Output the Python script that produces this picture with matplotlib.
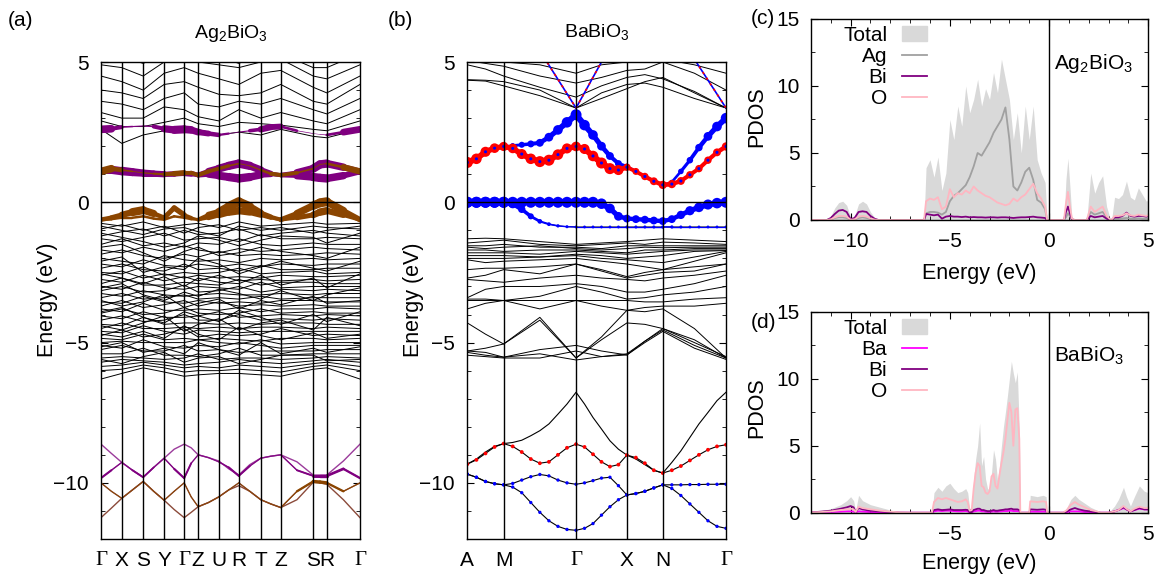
import numpy as np
import matplotlib
matplotlib.use('Agg')
import matplotlib.pyplot as plt
from matplotlib.collections import LineCollection
from matplotlib.patches import Patch
from matplotlib.lines import Line2D

plt.rcParams['font.family'] = ['Liberation Sans', 'DejaVu Sans']
plt.rcParams['font.size'] = 15
plt.rcParams['mathtext.fontset'] = 'custom'
plt.rcParams['mathtext.rm'] = 'Liberation Sans'
plt.rcParams['axes.linewidth'] = 1.0

PURPLE = '#800080'
BROWN = '#8b4500'
BLUE = '#0000ff'
RED = '#ff0000'

# ---------------- (a) Ag2BiO3 band structure ----------------
kpath_a = [0, 20.8, 42.2, 63.2, 83.2, 97.2, 117.8, 137.8, 159.8, 179.8, 212.2, 225.8, 259]
klabels_a = ['Γ', 'X', 'S', 'Y', 'Γ', 'Z', 'U', 'R', 'T', 'Z', 'S', 'R', 'Γ']

# conduction bands, values at the 13 k-points
cond_a = [
    [2.6, 2.1, 2.4, 2.55, 2.6, 2.6, 2.4, 2.5, 2.4, 2.6, 2.35, 2.3, 2.6],
    [2.9, 2.7, 2.7, 2.85, 3.0, 2.8, 2.7, 2.85, 2.8, 2.75, 2.6, 2.55, 2.9],
    [3.2, 3.0, 3.0, 3.4, 3.3, 3.05, 2.9, 3.3, 3.0, 3.2, 2.9, 2.8, 3.3],
    [3.6, 3.5, 3.3, 3.7, 3.9, 3.5, 3.4, 3.6, 3.5, 3.7, 3.3, 3.15, 3.7],
    [4.0, 3.9, 3.7, 4.2, 4.3, 4.1, 3.85, 3.8, 3.9, 4.2, 3.6, 3.5, 4.2],
    [4.5, 4.3, 4.0, 4.6, 4.8, 4.6, 4.4, 4.2, 4.6, 4.7, 4.1, 3.9, 4.5],
    [4.9, 4.8, 4.5, 5.0, 5.1, 5.0, 4.9, 4.8, 5.0, 5.1, 4.5, 4.4, 4.9],
    [5.2, 5.2, 4.95, 5.3, 5.3, 5.3, 5.2, 4.95, 5.3, 5.3, 4.8, 4.8, 5.3],
]

# valence bands, values at the 13 k-points
val_a = [
    [-0.75, -0.85, -0.7, -0.9, -0.8, -0.75, -0.9, -0.7, -0.85, -0.8, -0.72, -0.78, -0.75],
    [-0.95, -0.8, -1.0, -0.85, -1.1, -0.9, -0.8, -1.0, -0.9, -1.0, -0.85, -0.9, -0.95],
    [-1.2, -1.05, -0.95, -1.2, -1.0, -1.15, -1.1, -0.95, -1.2, -1.1, -1.0, -1.1, -1.2],
    [-1.3, -1.4, -1.25, -1.1, -1.35, -1.3, -1.25, -1.4, -1.15, -1.3, -1.3, -1.25, -1.3],
    [-1.5, -1.3, -1.55, -1.45, -1.6, -1.45, -1.5, -1.3, -1.5, -1.55, -1.45, -1.5, -1.5],
    [-1.7, -1.8, -1.6, -1.75, -1.55, -1.7, -1.8, -1.65, -1.75, -1.7, -1.6, -1.65, -1.7],
    [-1.85, -1.7, -1.9, -2.0, -1.85, -1.95, -1.75, -1.9, -1.85, -1.9, -1.85, -1.8, -1.85],
    [-2.0, -2.1, -2.2, -1.9, -2.05, -2.1, -2.05, -2.15, -2.0, -2.05, -2.0, -2.05, -2.0],
    [-2.2, -2.3, -2.05, -2.25, -2.3, -2.2, -2.3, -2.2, -2.3, -2.2, -2.25, -2.2, -2.2],
    [-2.35, -2.2, -2.4, -2.45, -2.2, -2.4, -2.35, -2.45, -2.25, -2.4, -2.4, -2.35, -2.35],
    [-2.5, -2.55, -2.3, -2.6, -2.5, -2.55, -2.5, -2.35, -2.55, -2.5, -2.45, -2.55, -2.5],
    [-2.6, -2.45, -2.7, -2.55, -2.7, -2.6, -2.7, -2.65, -2.7, -2.6, -2.65, -2.65, -2.6],
    [-2.75, -2.85, -2.6, -2.8, -2.65, -2.8, -2.6, -2.8, -2.75, -2.8, -2.75, -2.8, -2.75],
    [-2.9, -2.7, -2.95, -2.95, -2.85, -2.9, -2.95, -2.75, -2.95, -2.85, -2.85, -2.9, -2.9],
    [-3.0, -3.1, -2.85, -3.05, -3.1, -3.0, -3.05, -3.1, -2.85, -3.05, -3.0, -3.0, -3.0],
    [-3.15, -3.0, -3.2, -3.15, -2.95, -3.2, -3.15, -3.0, -3.2, -3.1, -3.15, -3.1, -3.15],
    [-3.25, -3.35, -3.15, -3.3, -3.35, -3.3, -3.25, -3.3, -3.3, -3.25, -3.3, -3.25, -3.25],
    [-3.4, -3.25, -3.45, -3.4, -3.3, -3.45, -3.4, -3.45, -3.35, -3.45, -3.4, -3.4, -3.4],
    [-3.55, -3.6, -3.35, -3.55, -3.6, -3.5, -3.6, -3.55, -3.6, -3.5, -3.5, -3.55, -3.55],
    [-3.7, -3.5, -3.75, -3.65, -3.5, -3.7, -3.55, -3.7, -3.65, -3.7, -3.65, -3.7, -3.7],
    [-3.8, -3.9, -3.6, -3.85, -3.85, -3.8, -3.85, -3.75, -3.9, -3.8, -3.8, -3.75, -3.8],
    [-3.95, -3.8, -4.0, -3.95, -3.75, -3.95, -4.0, -3.95, -3.8, -3.95, -3.9, -3.95, -3.95],
    [-4.05, -4.15, -3.9, -4.1, -4.1, -4.05, -3.9, -4.1, -4.05, -4.0, -4.05, -4.0, -4.05],
    [-4.2, -4.05, -4.25, -4.2, -4.0, -4.2, -4.2, -4.0, -4.2, -4.15, -4.2, -4.15, -4.2],
    [-4.35, -4.4, -4.1, -4.35, -4.3, -4.3, -4.35, -4.3, -4.35, -4.3, -4.3, -4.35, -4.35],
    [-4.5, -4.3, -4.5, -4.5, -4.45, -4.5, -4.45, -4.5, -4.45, -4.45, -4.5, -4.45, -4.5],
    [-4.6, -4.65, -4.4, -4.6, -4.7, -4.55, -4.6, -4.65, -4.6, -4.6, -4.6, -4.6, -4.6],
    [-4.75, -4.55, -4.8, -4.7, -4.5, -4.8, -4.7, -4.75, -4.7, -4.5, -4.75, -4.7, -4.75],
    [-4.85, -4.9, -4.7, -4.9, -4.85, -4.9, -4.85, -4.9, -4.95, -4.85, -4.85, -4.9, -4.85],
    [-5.0, -4.95, -5.0, -5.0, -5.0, -4.9, -5.0, -5.05, -4.9, -5.05, -5.0, -5.0, -5.0],
    [-5.1, -5.2, -4.9, -5.15, -5.2, -5.1, -5.15, -5.0, -5.1, -5.2, -5.1, -5.1, -5.1],
    [-5.25, -5.1, -5.3, -5.3, -5.1, -5.3, -5.25, -5.35, -5.3, -5.3, -5.3, -5.25, -5.25],
    [-5.4, -5.4, -5.2, -5.45, -5.45, -5.5, -5.4, -5.2, -5.45, -5.45, -5.4, -5.4, -5.4],
    [-5.55, -5.5, -5.55, -5.6, -5.55, -5.4, -5.6, -5.55, -5.55, -5.6, -5.55, -5.5, -5.55],
    [-5.7, -5.6, -5.65, -5.7, -5.8, -5.75, -5.7, -5.6, -5.7, -5.75, -5.65, -5.6, -5.7],
    [-5.85, -5.8, -5.7, -5.8, -5.9, -5.85, -5.9, -5.8, -5.85, -5.9, -5.75, -5.7, -5.85],
    [-6.0, -5.95, -5.8, -5.9, -6.05, -6.0, -6.0, -5.95, -6.0, -6.05, -5.85, -5.8, -6.0],
    [-6.3, -6.1, -5.9, -6.05, -6.2, -6.15, -6.1, -6.1, -6.15, -6.2, -5.95, -5.9, -6.3],
    [-0.85, -1.0, -1.15, -0.95, -0.9, -1.05, -1.2, -0.85, -1.0, -0.9, -1.1, -1.0, -0.85],
    [-1.1, -1.25, -1.4, -1.6, -1.45, -1.2, -1.35, -1.55, -1.35, -1.2, -1.25, -1.45, -1.1],
    [-1.6, -1.5, -1.8, -2.1, -1.75, -1.6, -1.9, -1.8, -1.6, -1.75, -1.9, -2.0, -1.6],
    [-2.1, -1.95, -2.5, -2.3, -2.4, -2.0, -2.2, -2.55, -2.3, -2.1, -2.35, -2.45, -2.1],
    [-2.55, -2.7, -2.9, -2.65, -3.0, -2.7, -2.85, -2.9, -2.6, -2.95, -2.7, -3.05, -2.55],
    [-3.05, -2.9, -3.3, -3.5, -3.2, -3.35, -3.1, -3.25, -3.45, -3.15, -3.5, -3.3, -3.05],
    [-3.5, -3.7, -3.55, -3.3, -3.75, -3.6, -3.45, -3.8, -3.5, -3.65, -3.35, -3.6, -3.5],
    [-3.9, -3.75, -4.1, -4.3, -3.9, -4.05, -4.25, -3.85, -4.1, -4.35, -4.0, -4.25, -3.9],
    [-4.4, -4.55, -4.3, -4.05, -4.6, -4.35, -4.15, -4.55, -4.3, -4.2, -4.55, -4.1, -4.4],
    [-4.7, -4.8, -4.6, -4.85, -4.4, -4.7, -4.9, -4.45, -4.75, -4.9, -4.65, -4.85, -4.7],
    [-5.15, -5.0, -5.35, -5.2, -5.4, -5.0, -5.25, -5.45, -5.0, -5.4, -5.2, -5.35, -5.15],
    [-5.6, -5.75, -5.5, -5.35, -5.7, -5.55, -5.5, -5.75, -5.6, -5.45, -5.45, -5.65, -5.6],
]

# fat bands of (a): values at k-points and midpoints (25 values)
bi_cb2_a = [2.6, 2.62, 2.68, 2.7, 2.72, 2.7, 2.62, 2.58, 2.6, 2.58, 2.5, 2.45, 2.4,
            2.45, 2.5, 2.55, 2.6, 2.68, 2.7, 2.55, 2.45, 2.42, 2.4, 2.5, 2.6]
bi_cb2_w = [1.0, 0.7, 0.2, 0.15, 0.1, 0.2, 0.7, 0.9, 0.9, 0.8, 0.7, 0.6, 0.4,
            0.1, 0.05, 0.2, 0.6, 0.8, 0.5, 0.1, 0.05, 0.05, 0.1, 0.5, 1.0]
cb1_up_a = [1.1, 1.2, 1.15, 1.1, 1.05, 1.02, 1.0, 1.02, 1.05, 1.05, 0.97, 1.1, 1.2,
            1.3, 1.38, 1.3, 1.15, 1.02, 0.97, 1.05, 1.2, 1.35, 1.38, 1.25, 1.1]
cb1_dn_a = [1.1, 1.1, 1.05, 1.02, 1.0, 1.0, 1.0, 1.0, 1.02, 1.0, 0.97, 1.0, 0.95,
            0.9, 0.85, 0.9, 0.98, 1.0, 0.97, 0.95, 0.9, 0.87, 0.85, 0.95, 1.1]
cb1_up_bi_w = [0.6, 0.6, 0.8, 0.8, 0.8, 0.8, 0.7, 0.5, 0.6, 0.6, 0.4, 0.8, 0.9,
               1.0, 1.0, 1.0, 0.8, 0.6, 0.3, 0.8, 1.0, 1.0, 1.0, 0.8, 0.6]
cb1_dn_bi_w = [0.6, 0.6, 0.6, 0.6, 0.6, 0.6, 0.6, 0.5, 0.6, 0.6, 0.4, 0.8, 0.9,
               1.0, 1.0, 1.0, 0.8, 0.6, 0.3, 0.8, 1.0, 1.0, 1.0, 0.8, 0.6]
cb1_up_ag_w = [1.0, 0.8, 0.3, 0.1, 0.1, 0.2, 0.3, 0.7, 0.6, 0.4, 0.6, 0.4, 0.5,
               0.3, 0.1, 0.1, 0.2, 0.4, 0.6, 0.3, 0.1, 0.1, 0.1, 0.5, 1.0]
vb1_a = [-0.62, -0.55, -0.45, -0.35, -0.28, -0.4, -0.55, -0.2, -0.45, -0.55, -0.62, -0.45, -0.35,
         -0.15, 0.02, -0.15, -0.38, -0.52, -0.62, -0.4, -0.12, -0.02, 0.02, -0.3, -0.62]
vb2_a = [-0.62, -0.6, -0.55, -0.55, -0.5, -0.58, -0.62, -0.5, -0.55, -0.6, -0.62, -0.55, -0.45,
         -0.35, -0.3, -0.35, -0.45, -0.55, -0.62, -0.55, -0.45, -0.35, -0.3, -0.45, -0.62]
vb1_ag_w = [0.5, 0.5, 0.6, 0.8, 1.0, 0.6, 0.4, 0.7, 0.5, 0.3, 0.3, 0.6, 0.8,
            1.0, 1.0, 0.9, 0.6, 0.5, 0.4, 0.7, 0.9, 1.0, 1.0, 0.7, 0.5]
vb2_ag_w = [0.4, 0.3, 0.3, 0.3, 0.3, 0.3, 0.3, 0.3, 0.3, 0.3, 0.3, 0.5, 0.7,
            0.9, 0.9, 0.8, 0.6, 0.4, 0.4, 0.5, 0.7, 0.9, 0.9, 0.6, 0.4]
low1_a = [-8.62, -8.95, -9.27, -9.55, -9.8, -9.45, -9.12, -8.8, -8.62, -8.75, -9.0, -9.1, -9.22,
          -9.5, -9.72, -9.35, -9.12, -9.05, -9.0, -9.25, -9.72, -9.72, -9.72, -9.22, -8.62]
low2_a = [-9.83, -9.55, -9.27, -9.55, -9.8, -9.45, -9.12, -9.5, -9.83, -9.3, -9.0, -9.1, -9.25,
          -9.45, -9.75, -9.4, -9.12, -9.05, -9.0, -9.55, -9.75, -9.75, -9.75, -9.5, -9.83]
low3_a = [-10.0, -10.3, -10.55, -10.25, -9.95, -10.3, -10.62, -10.3, -10.0, -10.5, -10.85, -10.7, -10.5,
          -10.25, -10.0, -10.3, -10.6, -10.75, -10.88, -10.3, -9.95, -9.97, -10.0, -10.3, -10.0]
low4_a = [-11.24, -10.9, -10.55, -10.25, -9.95, -10.3, -10.62, -10.95, -11.24, -11.05, -10.85, -10.7, -10.5,
          -10.25, -10.1, -10.3, -10.6, -10.75, -10.88, -10.6, -9.98, -10.0, -10.05, -10.6, -11.24]
low2_bi_w = [0.7, 0.3, 0.2, 0.3, 0.6, 0.2, 0.2, 0.3, 0.7, 0.2, 0.2, 0.2, 0.2,
             0.4, 0.6, 0.3, 0.2, 0.2, 0.2, 0.3, 0.6, 0.8, 0.8, 0.5, 0.6]
low3_ag_w = [0.2, 0.2, 0.2, 0.2, 0.2, 0.2, 0.2, 0.2, 0.2, 0.2, 0.2, 0.2, 0.2,
             0.2, 0.2, 0.2, 0.2, 0.2, 0.2, 0.3, 0.8, 0.8, 0.8, 0.3, 0.2]

# ---------------- (b) BaBiO3 band structure ----------------
kpath_b = [0, 36.4, 109, 160, 196, 259.4]
klabels_b = ['A', 'M', 'Γ', 'X', 'N', 'Γ']
fine_div_b = [4, 8, 6, 4, 7]

# black bands on k-points + midpoints (11 values)
cond_b = [
    [4.35, 4.32, 4.15, 3.8, 3.36, 3.7, 4.05, 4.3, 4.45, 3.9, 3.36],
    [4.37, 4.35, 4.3, 4.0, 3.36, 3.9, 4.2, 4.25, 4.1, 3.7, 3.36],
    [4.9, 4.75, 4.5, 4.1, 3.75, 4.15, 4.45, 4.55, 4.4, 3.95, 3.36],
    [5.05, 4.95, 4.85, 4.5, 4.25, 4.45, 4.7, 4.75, 5.0, 4.6, 4.0],
    [5.1, 5.1, 5.0, 4.9, 4.6, 4.9, 5.0, 5.0, 5.1, 4.9, 4.6],
]
steep_b = [5.5, 5.5, 5.5, 5.4, 3.36, 5.0, 5.5, 5.5, 5.5, 5.1, 3.36]
val_b = [
    [-1.3, -1.28, -1.3, -1.4, -1.5, -1.45, -1.4, -1.35, -1.3, -1.35, -1.4],
    [-1.45, -1.4, -1.35, -1.5, -1.55, -1.5, -1.45, -1.5, -1.42, -1.45, -1.5],
    [-1.55, -1.55, -1.5, -1.6, -1.6, -1.65, -1.55, -1.55, -1.55, -1.55, -1.55],
    [-1.6, -1.65, -1.6, -1.55, -1.65, -1.7, -1.65, -1.6, -1.62, -1.6, -1.6],
    [-1.7, -1.7, -1.75, -1.7, -1.7, -1.75, -1.8, -1.7, -1.7, -1.65, -1.65],
    [-1.8, -1.8, -1.8, -1.85, -1.75, -1.8, -1.85, -1.8, -1.75, -1.7, -1.7],
    [-1.9, -1.9, -1.9, -1.95, -1.85, -1.9, -2.0, -1.95, -1.9, -1.75, -1.72],
    [-2.0, -2.0, -2.0, -1.95, -1.9, -2.0, -2.05, -2.1, -2.15, -1.95, -1.75],
    [-2.05, -2.15, -2.1, -2.05, -2.0, -2.1, -2.2, -2.3, -2.4, -2.1, -1.8],
    [-2.4, -2.35, -2.35, -2.3, -2.2, -2.4, -2.65, -2.5, -2.4, -2.3, -2.2],
    [-2.7, -2.6, -2.4, -2.55, -2.2, -2.45, -2.7, -2.6, -2.5, -2.45, -2.2],
    [-2.75, -2.8, -2.85, -2.7, -2.6, -2.7, -2.75, -2.8, -2.7, -2.6, -2.45],
    [-3.4, -3.1, -3.0, -3.0, -2.9, -3.0, -3.2, -3.2, -3.1, -2.9, -2.6],
    [-3.45, -3.45, -3.5, -3.35, -3.0, -3.2, -3.45, -3.4, -3.3, -3.2, -3.0],
    [-3.5, -3.5, -3.5, -3.5, -3.5, -3.5, -3.5, -3.55, -3.55, -3.45, -3.4],
    [-3.8, -3.6, -3.5, -3.8, -3.5, -3.7, -3.85, -3.75, -3.7, -3.7, -3.6],
    [-4.3, -4.7, -5.05, -4.1, -5.55, -4.8, -3.85, -3.9, -3.8, -4.5, -5.55],
    [-5.3, -5.2, -5.05, -4.2, -5.55, -4.9, -4.3, -4.35, -4.5, -4.9, -5.55],
    [-5.35, -5.45, -5.52, -5.4, -5.62, -5.5, -5.44, -4.95, -4.55, -5.1, -5.55],
    [-5.3, -5.35, -5.52, -5.25, -5.1, -5.3, -5.44, -5.0, -4.6, -5.2, -5.6],
    [-5.45, -5.5, -5.55, -5.55, -5.3, -5.5, -5.4, -4.95, -4.5, -5.0, -5.5],
]

# fat bands of (b) on the fine k grid (30 values)
vb_top_b = [0, 0, 0, 0, 0, 0, 0, 0, 0, 0, 0, 0, 0,
            0, 0, -0.05, -0.22, -0.5, -0.58, -0.6, -0.62, -0.65, -0.67,
            -0.6, -0.45, -0.3, -0.18, -0.08, -0.03, 0]
vb_top_w = [1, 1, 1, 1, 1, 1, 1, 1, 1, 1, 1, 1, 1,
            1, 1, 0.95, 0.85, 0.75, 0.65, 0.65, 0.65, 0.65, 0.65,
            0.65, 0.7, 0.8, 0.85, 0.9, 0.95, 1.0]
vb_low_b = [0, 0, 0, 0, 0, -0.05, -0.25, -0.5, -0.68, -0.78, -0.84, -0.87, -0.88,
            -0.88, -0.88, -0.88, -0.88, -0.88, -0.88, -0.88, -0.88, -0.88, -0.88,
            -0.88, -0.88, -0.88, -0.88, -0.88, -0.88, -0.88]
vb_low_w = [1, 1, 1, 1, 1, 0.8, 0.6, 0.45, 0.3, 0.2, 0.15, 0.12, 0.1,
            0.1, 0.1, 0.1, 0.1, 0.1, 0.12, 0.12, 0.12, 0.12, 0.15,
            0.15, 0.12, 0.1, 0.1, 0.1, 0.1, 0.1]
cb_blue_b = [1.42, 1.55, 1.8, 1.93, 1.99, 2.02, 2.05, 2.08, 2.12, 2.32, 2.58, 2.85, 3.12,
             2.75, 2.4, 2.0, 1.65, 1.38, 1.27, 1.1, 0.92, 0.75, 0.62,
             0.72, 1.1, 1.5, 1.95, 2.35, 2.7, 3.0]
cb_blue_w = [0.1, 0.12, 0.15, 0.2, 0.25, 0.35, 0.45, 0.55, 0.65, 0.75, 0.85, 0.95, 1.0,
             0.95, 0.85, 0.75, 0.65, 0.55, 0.45, 0.35, 0.3, 0.3, 0.3,
             0.3, 0.4, 0.5, 0.6, 0.75, 0.85, 0.95]
cb_red_b = [1.42, 1.55, 1.8, 1.93, 1.99, 1.92, 1.72, 1.55, 1.45, 1.5, 1.7, 1.92, 1.99,
            1.9, 1.65, 1.4, 1.2, 1.15, 1.25, 1.1, 0.92, 0.75, 0.62,
            0.65, 0.76, 0.98, 1.2, 1.5, 1.78, 1.99]
cb_red_w = [1.0, 0.95, 0.9, 0.85, 0.8, 0.85, 0.9, 0.95, 1.0, 1.0, 0.95, 0.9, 0.85,
            0.9, 0.95, 1.0, 1.0, 0.9, 0.6, 0.55, 0.6, 0.65, 0.7,
            0.7, 0.65, 0.6, 0.6, 0.6, 0.65, 0.7]
low_peak_b = [-9.33, -9.15, -8.9, -8.7, -8.6, -8.56, -8.48, -8.32, -8.14, -7.9, -7.55, -7.19, -6.77,
              -7.19, -7.67, -8.08, -8.5, -8.8, -9.01, -9.15, -9.35, -9.55, -9.65,
              -9.27, -8.86, -8.38, -7.9, -7.49, -7.07, -6.77]
low_red_b = [-9.33, -9.18, -8.95, -8.72, -8.6, -8.7, -8.9, -9.15, -9.3, -9.25, -9.0, -8.75, -8.62,
             -8.72, -8.98, -9.25, -9.42, -9.35, -9.01, -9.1, -9.3, -9.55, -9.65,
             -9.55, -9.4, -9.2, -9.0, -8.82, -8.7, -8.64]
low_blue1_b = [-9.69, -9.8, -9.95, -10.03, -10.07, -10.02, -9.9, -9.78, -9.7, -9.75, -9.9, -10.0, -10.05,
               -10.0, -9.92, -9.83, -9.8, -10.1, -10.43, -10.38, -10.3, -10.18, -10.07,
               -10.07, -10.07, -10.06, -10.06, -10.05, -10.05, -10.05]
low_blue2_b = [-9.69, -9.8, -9.95, -10.03, -10.07, -10.15, -10.35, -10.7, -11.05, -11.35, -11.55, -11.66, -11.69,
               -11.62, -11.45, -11.15, -10.85, -10.6, -10.43, -10.38, -10.3, -10.18, -10.07,
               -10.2, -10.45, -10.75, -11.05, -11.35, -11.55, -11.62]

# ---------------- (c) Ag2BiO3 PDOS ----------------
c_energy = [-12.0, -11.2, -11.0, -10.8, -10.6, -10.4, -10.2, -10.0, -9.8, -9.6, -9.4, -9.2, -9.0, -8.8, -8.6,
            -6.3, -6.2, -6.0, -5.8, -5.6, -5.4, -5.2, -5.0, -4.8, -4.6, -4.4, -4.2, -4.0, -3.8, -3.6, -3.4,
            -3.2, -3.0, -2.8, -2.6, -2.4, -2.2, -2.0, -1.8, -1.6, -1.4, -1.2, -1.0, -0.8, -0.6, -0.4, -0.2, -0.1,
            0.6, 0.75, 0.85, 0.95, 1.05, 1.15, 1.3,
            1.9, 2.1, 2.3, 2.5, 2.7, 2.9, 3.1,
            3.15, 3.3, 3.5, 3.7, 3.9, 4.1, 4.3, 4.5, 4.7, 4.9, 5.0]
c_total = [0, 0, 0.3, 0.9, 1.3, 1.4, 1.1, 0.2, 0.3, 1.2, 1.4, 1.2, 0.6, 0.2, 0,
           0, 3.9, 4.5, 3.2, 4.7, 2.2, 3.5, 7.5, 6.0, 8.5, 7.0, 10.0, 8.0, 9.0, 10.5, 8.5,
           9.8, 9.0, 11.0, 9.5, 12.0, 10.5, 9.0, 6.0, 8.0, 5.0, 8.5, 6.0, 8.5, 4.5, 3.5, 2.8, 0,
           0, 0, 3.0, 4.6, 2.5, 0.2, 0,
           0, 3.5, 2.0, 2.8, 3.3, 1.0, 0,
           0, 1.7, 1.6, 1.9, 2.9, 1.7, 1.5, 2.4, 1.9, 1.4, 1.5]
c_ag = [0, 0, 0.05, 0.15, 0.2, 0.2, 0.15, 0.02, 0.05, 0.15, 0.2, 0.15, 0.08, 0.02, 0,
        0, 0.5, 0.6, 0.6, 0.55, 0.4, 0.6, 1.4, 1.8, 2.0, 2.3, 2.6, 3.2, 4.0, 5.0, 4.8,
        5.3, 5.8, 6.5, 7.0, 7.5, 8.4, 6.0, 2.5, 2.2, 2.8, 3.6, 3.9, 3.0, 1.5, 1.3, 0.8, 0,
        0, 0, 0.2, 0.5, 0.3, 0, 0,
        0, 0.6, 0.4, 0.5, 0.6, 0.2, 0,
        0, 0.1, 0.1, 0.12, 0.15, 0.1, 0.1, 0.12, 0.1, 0.1, 0.1]
c_bi = [0, 0, 0.15, 0.45, 0.7, 0.75, 0.6, 0.05, 0.15, 0.6, 0.65, 0.6, 0.3, 0.1, 0,
        0, 0.45, 0.4, 0.35, 0.4, 0.1, 0.25, 0.3, 0.25, 0.25, 0.22, 0.25, 0.2, 0.22, 0.2, 0.2,
        0.18, 0.2, 0.2, 0.18, 0.2, 0.2, 0.18, 0.15, 0.18, 0.2, 0.2, 0.22, 0.25, 0.2, 0.18, 0.15, 0,
        0, 0, 0.6, 1.0, 0.5, 0.05, 0,
        0, 0.3, 0.2, 0.25, 0.3, 0.1, 0,
        0, 0.2, 0.2, 0.3, 0.55, 0.3, 0.25, 0.3, 0.3, 0.25, 0.3]
c_o = [0, 0, 0.05, 0.2, 0.3, 0.3, 0.25, 0.02, 0.05, 0.25, 0.3, 0.25, 0.12, 0.03, 0,
       0, 1.4, 1.6, 1.5, 1.7, 0.8, 1.0, 2.3, 1.7, 2.0, 1.9, 2.2, 2.0, 2.5, 2.2, 2.0,
       1.8, 1.7, 1.5, 1.3, 1.2, 1.1, 1.2, 1.6, 1.4, 1.7, 1.9, 2.3, 2.7, 2.0, 1.6, 1.0, 0,
       0, 0, 1.2, 2.1, 1.0, 0.1, 0,
       0, 1.0, 0.6, 0.8, 1.0, 0.3, 0,
       0, 0.3, 0.3, 0.35, 0.5, 0.35, 0.3, 0.4, 0.35, 0.3, 0.35]

# ---------------- (d) BaBiO3 PDOS ----------------
d_energy = [-12.0, -11.5, -11.0, -10.5, -10.2, -10.0, -9.85, -9.75, -9.6, -9.4, -9.0, -8.5, -8.0, -7.5, -7.0,
            -5.9, -5.8, -5.6, -5.4, -5.2, -5.0, -4.8, -4.6, -4.4, -4.2, -4.1, -4.0, -3.9, -3.8, -3.7, -3.6,
            -3.5, -3.4, -3.3, -3.2, -3.1, -3.0, -2.9, -2.8, -2.7, -2.6, -2.5, -2.4, -2.3, -2.2, -2.1, -2.0,
            -1.9, -1.8, -1.7, -1.6, -1.5, -1.45,
            -1.0, -0.95, -0.6, -0.3, -0.15, -0.1,
            0.7, 0.9, 1.1, 1.3, 1.5, 1.8, 2.1, 2.4, 2.6,
            3.0, 3.3, 3.5, 3.75, 3.9, 4.1, 4.3, 4.55, 4.8, 5.0]
d_total = [0.05, 0.15, 0.3, 0.6, 0.9, 1.2, 0.9, 0.15, 1.3, 0.9, 0.6, 0.4, 0.2, 0.05, 0,
           0, 1.5, 1.9, 1.6, 2.0, 2.2, 1.8, 1.5, 1.6, 1.8, 1.5, 0.3, 0.4, 2.5, 4.0, 5.0,
           6.7, 3.5, 4.2, 2.5, 1.8, 1.7, 3.0, 4.7, 4.0, 2.4, 3.5, 5.0, 6.4, 7.5, 8.7, 10.0,
           11.3, 10.4, 9.7, 10.5, 6.2, 0,
           0, 1.3, 1.2, 1.3, 1.2, 0,
           0, 0.4, 1.0, 1.3, 1.0, 0.7, 0.4, 0.2, 0,
           0, 0.5, 1.0, 1.9, 1.2, 0.5, 1.2, 2.0, 1.6, 1.5]
d_ba = [0.01, 0.03, 0.05, 0.08, 0.1, 0.1, 0.08, 0.02, 0.1, 0.08, 0.05, 0.03, 0.02, 0.0, 0,
        0, 0.1, 0.15, 0.12, 0.15, 0.15, 0.12, 0.1, 0.1, 0.12, 0.1, 0.02, 0.02, 0.1, 0.12, 0.15,
        0.15, 0.1, 0.1, 0.08, 0.06, 0.06, 0.08, 0.1, 0.08, 0.08, 0.1, 0.1, 0.12, 0.12, 0.12, 0.15,
        0.15, 0.12, 0.12, 0.12, 0.1, 0,
        0, 0.08, 0.08, 0.08, 0.08, 0,
        0, 0.05, 0.1, 0.1, 0.1, 0.05, 0.05, 0.02, 0,
        0, 0.1, 0.2, 0.35, 0.25, 0.1, 0.2, 0.3, 0.25, 0.25]
d_bi = [0.02, 0.08, 0.15, 0.3, 0.4, 0.5, 0.4, 0.05, 0.35, 0.25, 0.15, 0.1, 0.05, 0.01, 0,
        0, 0.2, 0.25, 0.2, 0.22, 0.25, 0.2, 0.2, 0.2, 0.22, 0.2, 0.05, 0.05, 0.2, 0.25, 0.3,
        0.3, 0.2, 0.2, 0.15, 0.12, 0.12, 0.15, 0.2, 0.15, 0.15, 0.18, 0.2, 0.22, 0.25, 0.25, 0.28,
        0.3, 0.25, 0.25, 0.25, 0.2, 0,
        0, 0.25, 0.22, 0.25, 0.22, 0,
        0, 0.1, 0.25, 0.35, 0.25, 0.15, 0.1, 0.05, 0,
        0, 0.1, 0.2, 0.4, 0.25, 0.1, 0.2, 0.35, 0.25, 0.25]
d_o = [0.02, 0.05, 0.1, 0.2, 0.25, 0.3, 0.25, 0.05, 0.45, 0.35, 0.25, 0.15, 0.08, 0.02, 0,
       0, 0.8, 1.1, 1.0, 1.1, 1.0, 0.9, 0.8, 0.85, 1.0, 0.8, 0.15, 0.2, 1.8, 3.0, 3.7,
       3.5, 2.0, 1.9, 1.5, 1.4, 1.6, 2.7, 2.9, 2.0, 1.8, 2.8, 3.7, 4.5, 5.5, 6.9, 8.2,
       7.5, 5.0, 7.7, 7.8, 5.5, 0,
       0, 0.85, 0.8, 0.85, 0.8, 0,
       0, 0.2, 0.6, 0.8, 0.6, 0.4, 0.2, 0.1, 0,
       0, 0.1, 0.2, 0.5, 0.3, 0.1, 0.3, 0.45, 0.35, 0.35]


def kgrid(nodes, divs):
    pts = [nodes[0]]
    for i in range(len(nodes) - 1):
        pts += list(np.linspace(nodes[i], nodes[i + 1], divs[i] + 1)[1:])
    return np.array(pts)


def ribbon(ax, k, e, w, color, wmax, base=0.0, z=3):
    pts = np.column_stack([k, e])
    segs = np.stack([pts[:-1], pts[1:]], axis=1)
    w = np.asarray(w, dtype=float)
    lw = base + 0.5 * (w[:-1] + w[1:]) * wmax
    ax.add_collection(LineCollection(segs, linewidths=lw, colors=color,
                                     capstyle='round', joinstyle='round', zorder=z))


def dots(ax, k, e, w, color, z=5):
    d_px = 2.0 + 9.0 * np.asarray(w, dtype=float)
    ax.scatter(k, e, s=(d_px / 1.39) ** 2, color=color, lw=0, zorder=z)


def fat_b(ax, k, e, w, color):
    ribbon(ax, k, e, w, color, 4.0, base=0.5, z=4)
    dots(ax, k, e, w, color)


def style_band_axis(ax, nodes, labels):
    ax.set_xlim(nodes[0], nodes[-1])
    ax.set_ylim(-12, 5)
    for k in nodes[1:-1]:
        ax.axvline(k, color='black', lw=1.0, zorder=6)
    ax.axhline(0, color='black', lw=1.0, zorder=6)
    ax.set_xticks(nodes)
    ax.set_xticklabels(labels)
    for t in ax.get_xticklabels():
        if t.get_text() == 'Γ':
            t.set_fontfamily('Liberation Serif')
    ax.tick_params(axis='x', length=0, pad=9)
    ax.set_yticks([-10, -5, 0, 5])
    ax.set_yticks(np.arange(-12, 6, 1), minor=True)
    ax.tick_params(axis='y', which='both', direction='in', left=True, right=True, pad=9)
    ax.tick_params(axis='y', which='major', length=5)
    ax.tick_params(axis='y', which='minor', length=3)
    for s in ax.spines.values():
        s.set_zorder(7)


def style_dos_axis(ax):
    ax.set_xlim(-12, 5)
    ax.set_ylim(0, 15)
    ax.set_xticks([-10, -5, 0, 5])
    ax.set_xticks(np.arange(-12, 6, 1), minor=True)
    ax.set_yticks([0, 5, 10, 15])
    ax.set_yticks(np.arange(0, 15.1, 2.5), minor=True)
    ax.tick_params(which='both', direction='in', top=True, right=True)
    ax.tick_params(which='major', length=5)
    ax.tick_params(which='minor', length=3)
    ax.tick_params(axis='x', pad=9)
    ax.tick_params(axis='y', pad=8)
    ax.axvline(0, color='black', lw=1.0)


fig = plt.figure(figsize=(11.62, 5.80), dpi=100)
ax_a = fig.add_axes([0.0869, 0.0707, 0.2229, 0.8224])
ax_b = fig.add_axes([0.4022, 0.0707, 0.2226, 0.8224])
ax_c = fig.add_axes([0.6979, 0.6207, 0.2903, 0.3466])
ax_d = fig.add_axes([0.6979, 0.1160, 0.2903, 0.3466])

# ---- (a)
kn_a = np.array(kpath_a, dtype=float)
km_a = kgrid(kpath_a, [2] * 12)
for e in cond_a + val_a:
    ax_a.plot(kn_a, e, color='black', lw=0.7, zorder=2)
for e in [low1_a, low2_a]:
    ax_a.plot(km_a, e, color='#9b3b9b', lw=1.0, zorder=2)
for e in [low3_a, low4_a]:
    ax_a.plot(km_a, e, color='#8b4a3a', lw=1.0, zorder=2)
ribbon(ax_a, km_a, low2_a, low2_bi_w, PURPLE, 3.0)
ribbon(ax_a, km_a, low3_a, low3_ag_w, BROWN, 3.0)
ribbon(ax_a, km_a, bi_cb2_a, bi_cb2_w, PURPLE, 6.5)
ribbon(ax_a, km_a, cb1_dn_a, cb1_dn_bi_w, PURPLE, 6.0)
ribbon(ax_a, km_a, cb1_up_a, cb1_up_bi_w, PURPLE, 6.0)
ribbon(ax_a, km_a, cb1_up_a, cb1_up_ag_w, BROWN, 6.0, z=4)
ribbon(ax_a, km_a, vb2_a, vb2_ag_w, BROWN, 6.0)
ribbon(ax_a, km_a, vb1_a, vb1_ag_w, BROWN, 6.5)
style_band_axis(ax_a, kpath_a, klabels_a)

# ---- (b)
kn_b = np.array(kpath_b, dtype=float)
km_b = kgrid(kpath_b, [2] * 5)
kf_b = kgrid(kpath_b, fine_div_b)
for e in cond_b + val_b:
    ax_b.plot(km_b, e, color='black', lw=0.7, zorder=2)
ax_b.plot(km_b, steep_b, color=BLUE, lw=1.2, zorder=3)
ax_b.plot(km_b, steep_b, color=RED, lw=1.2, ls=(0, (1.5, 2.5)), zorder=3)
for e in [low_peak_b, low_red_b, low_blue1_b, low_blue2_b]:
    ax_b.plot(kf_b, e, color='black', lw=0.8, zorder=2)
dots(ax_b, kf_b, low_red_b, [0.2] * len(low_red_b), RED)
dots(ax_b, kf_b, low_blue1_b, [0.15] * len(low_blue1_b), BLUE)
dots(ax_b, kf_b, low_blue2_b, [0.15] * len(low_blue2_b), BLUE)
for e in [vb_top_b, vb_low_b, cb_blue_b, cb_red_b]:
    ax_b.plot(kf_b, e, color='black', lw=0.7, zorder=2)
fat_b(ax_b, kf_b, vb_low_b, vb_low_w, BLUE)
fat_b(ax_b, kf_b, vb_top_b, vb_top_w, BLUE)
fat_b(ax_b, kf_b, cb_blue_b, cb_blue_w, BLUE)
fat_b(ax_b, kf_b, cb_red_b, cb_red_w, RED)
dots(ax_b, kf_b, cb_red_b, [0.12] * len(cb_red_b), BLUE, z=6)
style_band_axis(ax_b, kpath_b, klabels_b)

# ---- (c) and (d)
TOTAL_C = '#d9d9d9'
for ax, en, tot, parts, name in [
        (ax_c, c_energy, c_total,
         [('Ag', c_ag, '#a0a0a0'), ('Bi', c_bi, PURPLE), ('O', c_o, '#ffb6c1')],
         r'Ag$_\mathregular{2}$BiO$_\mathregular{3}$'),
        (ax_d, d_energy, d_total,
         [('Ba', d_ba, '#ff00ff'), ('Bi', d_bi, PURPLE), ('O', d_o, '#ffb6c1')],
         r'BaBiO$_\mathregular{3}$')]:
    ax.fill_between(en, 0, tot, color=TOTAL_C, lw=0)
    handles = [Patch(color=TOTAL_C)]
    labels = ['Total']
    for lab, vals, col in parts:
        ax.plot(en, vals, color=col, lw=1.3)
        handles.append(Line2D([], [], color=col, lw=1.3))
        labels.append(lab)
    style_dos_axis(ax)
    ax.legend(handles, labels, loc='upper left', bbox_to_anchor=(0.095, 0.965),
              frameon=False, markerfirst=False, borderpad=0, borderaxespad=0,
              handlelength=1.2, handletextpad=0.7, labelspacing=0.1, fontsize=15)
    ax.text(0.72, 0.78, name, transform=ax.transAxes, ha='left', va='center', fontsize=15)

# labels and titles
W, H = 1162.0, 580.0
fig.text(8 / W, 1 - 20 / H, '(a)', ha='left', va='center', fontsize=15)
fig.text(388 / W, 1 - 20 / H, '(b)', ha='left', va='center', fontsize=15)
fig.text(751 / W, 1 - 19 / H, '(c)', ha='left', va='center', fontsize=15)
fig.text(751 / W, 1 - 322 / H, '(d)', ha='left', va='center', fontsize=15)
fig.text(230.5 / W, 1 - 33 / H, r'Ag$_\mathregular{2}$BiO$_\mathregular{3}$', ha='center', va='center', fontsize=14)
fig.text(596.6 / W, 1 - 33 / H, r'BaBiO$_\mathregular{3}$', ha='center', va='center', fontsize=14)
fig.text(48 / W, 1 - 300 / H, 'Energy (eV)', rotation=90, ha='center', va='center', fontsize=15.5)
fig.text(413 / W, 1 - 300 / H, 'Energy (eV)', rotation=90, ha='center', va='center', fontsize=15.5)
fig.text(757 / W, 1 - 117 / H, 'PDOS', rotation=90, ha='center', va='center', fontsize=15.5)
fig.text(757 / W, 1 - 408 / H, 'PDOS', rotation=90, ha='center', va='center', fontsize=15.5)
fig.text(979.7 / W, 1 - 273 / H, 'Energy (eV)', ha='center', va='center', fontsize=15.5)
fig.text(979.7 / W, 1 - 563 / H, 'Energy (eV)', ha='center', va='center', fontsize=15.5)

fig.savefig('out.png', dpi=100)
